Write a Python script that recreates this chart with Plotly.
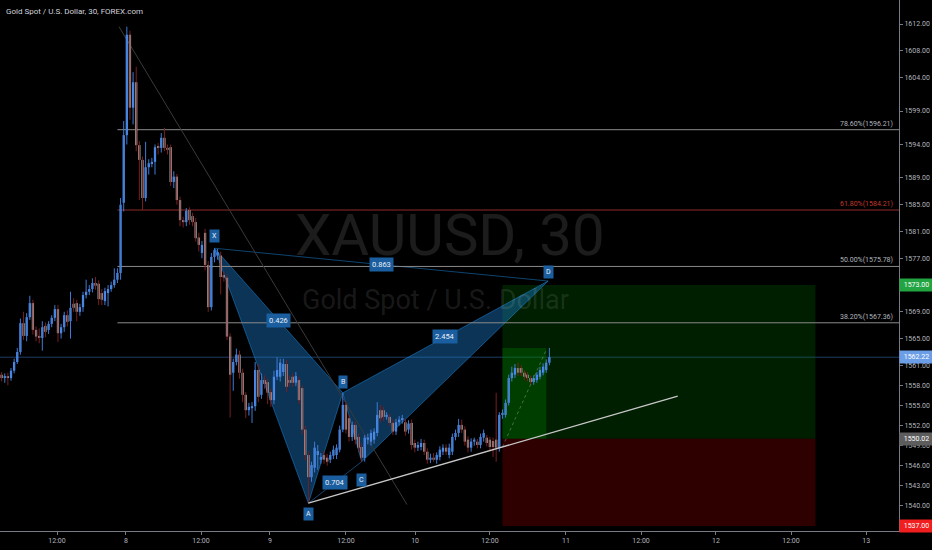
import plotly.graph_objects as go

# ---------------- data ----------------
opens = [1560.0,1559.6,1559.1,1559.4,1559.1,1560.2,1561.5,1563.0,1567.3,1565.4,1568.2,1570.3,1566.3,1565.4,1565.1,1566.9,1566.3,1567.2,1568.1,1569.4,
         1565.8,1566.7,1568.5,1567.6,1570.2,1570.3,1569.0,1569.7,1571.5,1572.0,1572.4,1573.3,1573.2,1571.8,1570.6,1571.8,1572.4,1573.0,1573.8,1574.8,
         1585.3,1595.4,1610.4,1599.5,1603.3,1593.9,1591.7,1586.0,1590.6,1591.2,1591.4,1593.6,1593.5,1595.0,1593.5,1593.6,1588.4,1589.2,1585.7,1582.7,
         1582.4,1584.2,1583.3,1582.4,1580.1,1577.8,1580.8,1576.0,1569.7,1577.2,1577.4,1577.4,1574.5,1574.1,1565.3,1559.9,1561.5,1562.6,1559.9,1556.6,
         1554.3,1554.6,1554.9,1560.3,1556.6,1558.8,1558.5,1557.0,1555.8,1559.3,1559.3,1560.0,1561.2,1558.8,1559.3,1558.4,1558.8,1557.6,1551.4,1547.6,
         1544.3,1545.7,1547.6,1546.9,1547.6,1547.2,1546.9,1547.5,1547.6,1548.4,1551.4,1555.1,1553.1,1550.3,1552.1,1550.3,1548.8,1547.2,1549.9,1549.6,
         1549.9,1550.9,1554.3,1554.3,1553.3,1553.3,1552.4,1551.1,1552.5,1552.9,1552.5,1551.4,1552.4,1549.4,1548.7,1548.8,1549.4,1548.1,1546.9,1547.2,
         1546.9,1547.3,1548.1,1548.7,1547.6,1548.1,1550.3,1550.9,1552.1,1551.4,1549.9,1548.7,1549.6,1549.6,1549.1,1550.2,1550.2,1549.9,1549.7,1549.9,
         1548.7,1553.6,1553.6,1555.4,1559.1,1559.6,1560.6,1560.6,1559.9,1559.6,1559.1,1558.5,1558.8,1559.3,1559.9,1560.3,1561.4]
highs = [1560.4,1560.0,1559.8,1559.9,1560.6,1562.0,1563.6,1568.0,1569.0,1568.8,1571.4,1570.8,1566.8,1566.5,1567.6,1567.4,1567.6,1568.5,1570.0,1570.0,
         1567.2,1569.0,1569.2,1572.0,1571.0,1570.8,1570.2,1572.0,1573.8,1573.0,1574.0,1574.2,1573.7,1572.4,1572.6,1573.0,1573.5,1575.5,1575.5,1586.0,
         1597.5,1611.6,1611.0,1604.8,1605.6,1594.5,1592.2,1594.4,1591.8,1592.0,1594.0,1594.2,1595.7,1596.5,1594.0,1594.0,1590.0,1589.6,1586.2,1583.2,
         1584.5,1584.6,1583.8,1583.0,1580.8,1579.6,1581.4,1576.6,1577.8,1578.5,1578.4,1578.0,1575.0,1574.5,1565.8,1562.0,1563.5,1563.2,1560.5,1557.0,
         1555.4,1555.5,1561.5,1561.2,1559.8,1559.5,1559.0,1557.5,1560.2,1562.2,1562.0,1562.0,1561.8,1559.5,1559.8,1560.0,1559.3,1558.0,1552.0,1548.2,
         1546.6,1549.6,1549.1,1547.9,1548.2,1547.8,1548.1,1549.0,1549.2,1552.0,1556.9,1555.6,1553.6,1552.6,1552.6,1550.8,1549.4,1550.6,1550.8,1551.4,
         1551.6,1555.5,1555.1,1554.8,1554.0,1553.8,1552.9,1553.0,1553.4,1553.6,1553.0,1552.8,1552.9,1549.9,1549.6,1550.0,1549.9,1548.6,1547.8,1547.9,
         1548.0,1548.9,1549.2,1549.2,1549.3,1550.8,1551.4,1553.0,1552.9,1551.9,1550.4,1550.1,1550.2,1550.0,1550.8,1551.4,1550.6,1550.3,1550.2,1556.9,
         1554.0,1554.4,1555.9,1559.6,1560.8,1561.2,1561.4,1561.0,1560.3,1560.0,1559.5,1559.5,1560.0,1560.8,1561.3,1561.9,1563.6]
lows = [1559.0,1558.6,1558.4,1558.0,1558.7,1559.8,1561.2,1562.6,1564.8,1564.6,1567.8,1565.6,1564.6,1564.3,1563.2,1565.2,1565.7,1566.7,1567.6,1564.5,
        1565.0,1566.0,1566.8,1565.0,1569.0,1567.6,1568.4,1569.0,1571.0,1571.5,1571.9,1572.3,1570.0,1570.0,1570.0,1569.8,1572.0,1572.6,1573.3,1573.8,
        1584.0,1594.0,1597.7,1597.0,1593.0,1585.7,1584.2,1585.5,1589.5,1590.6,1589.5,1592.5,1592.8,1593.0,1592.5,1587.8,1587.5,1585.0,1581.8,1581.6,
        1581.8,1582.0,1581.8,1579.5,1578.0,1577.0,1575.2,1569.0,1569.2,1576.4,1576.8,1571.6,1573.5,1564.8,1553.2,1557.2,1561.0,1559.0,1555.5,1553.1,
        1553.5,1552.4,1554.2,1555.5,1556.0,1557.5,1555.2,1554.8,1555.2,1558.8,1558.6,1559.4,1557.0,1557.8,1557.8,1557.9,1555.2,1550.7,1546.8,1540.4,
        1543.6,1545.0,1545.4,1546.3,1546.3,1546.0,1546.4,1547.0,1547.0,1548.0,1551.0,1550.8,1549.6,1549.7,1549.2,1548.0,1546.6,1546.6,1549.2,1549.0,
        1549.3,1550.4,1552.5,1552.7,1552.9,1551.9,1550.6,1550.6,1552.0,1552.3,1550.5,1550.8,1548.4,1548.0,1548.2,1548.3,1547.6,1546.3,1546.4,1546.6,
        1546.3,1546.8,1547.6,1547.6,1547.1,1547.6,1549.8,1550.3,1550.9,1549.0,1548.0,1548.1,1549.0,1548.6,1548.6,1549.6,1548.9,1548.2,1547.3,1546.6,
        1548.1,1553.0,1553.2,1555.0,1558.6,1559.1,1559.4,1559.4,1558.8,1558.6,1558.1,1558.1,1558.4,1558.9,1559.5,1559.9,1561.0]
closes = [1559.6,1559.1,1559.4,1559.1,1560.2,1561.5,1563.0,1567.3,1565.4,1568.2,1570.3,1566.3,1565.3,1565.1,1566.7,1566.0,1567.2,1568.1,1569.4,1565.8,
          1566.7,1568.5,1567.5,1569.6,1569.6,1569.0,1569.7,1571.5,1572.0,1572.4,1573.3,1572.9,1570.9,1570.8,1572.1,1572.4,1573.0,1573.8,1574.8,1585.0,
          1595.4,1610.4,1599.5,1603.3,1593.9,1591.7,1586.0,1590.6,1591.2,1591.4,1593.6,1593.5,1595.0,1593.5,1593.2,1588.4,1589.2,1585.7,1582.7,1582.4,
          1584.1,1582.7,1582.4,1580.0,1579.0,1579.0,1576.0,1569.7,1577.2,1578.2,1577.9,1574.2,1574.1,1565.3,1559.6,1561.5,1562.6,1559.9,1556.6,1554.3,
          1554.8,1554.9,1560.3,1556.3,1558.8,1558.2,1556.9,1555.8,1559.3,1560.3,1561.4,1561.2,1557.8,1558.4,1558.4,1559.4,1555.8,1551.4,1547.6,1544.3,
          1546.1,1548.7,1548.2,1547.3,1546.9,1546.6,1547.6,1548.4,1548.7,1551.4,1555.1,1551.4,1550.3,1552.1,1549.9,1548.7,1547.2,1550.2,1550.2,1550.9,
          1551.1,1553.6,1553.1,1553.3,1553.6,1552.4,1551.1,1552.5,1552.9,1553.1,1551.1,1552.3,1549.1,1548.7,1549.1,1549.4,1548.1,1546.9,1547.2,1546.9,
          1547.6,1548.4,1548.7,1548.1,1548.7,1550.3,1550.9,1552.1,1551.4,1549.6,1548.7,1549.6,1549.9,1549.1,1550.3,1550.9,1549.4,1548.8,1548.8,1548.7,
          1553.6,1553.9,1555.4,1559.1,1559.9,1560.6,1559.9,1559.9,1559.3,1559.1,1558.5,1559.1,1559.6,1560.3,1560.8,1561.4,1562.22]

x_tick_pos = [18.7, 40.7, 64.7, 86.7, 111.0, 133.1, 157.0, 181.3, 205.3, 229.2, 253.2, 277.2]
x_tick_text = ["12:00", "8", "12:00", "9", "12:00", "10", "12:00", "11", "12:00", "12", "12:00", "13"]
y_tick_vals = [1612, 1608, 1604, 1599, 1594, 1589, 1585, 1581, 1577, 1569, 1565, 1561,
               1558, 1555, 1552, 1549, 1546, 1543, 1540]

# harmonic pattern points (bar index, price)
pat_names = ["X", "A", "B", "C", "D"]
pat_bar = [69, 99, 110, 116, 175.6]
pat_price = [1578.5, 1540.4, 1556.9, 1546.6, 1573.6]
ratio_labels = {"XB": "0.426", "AC": "0.704", "BD": "2.454", "XD": "0.863"}

fib_levels = [1596.21, 1584.21, 1575.78, 1567.36]
fib_names = ["78.60%", "61.80%", "50.00%", "38.20%"]
fib_start_bar = 38

last_price = 1562.22
entry_price = 1550.02
target_price = 1573.00
stop_price = 1537.00
pos_start, pos_end, pos_now = 161, 261, 175

support_bars = [99, 217]
support_prices = [1540.4, 1556.4]
diag_bars = [38.5, 130.5]
diag_prices = [1611.6, 1540.2]

# ---------------- styles ----------------
UP = "#5494f0"
DOWN = "#b0b0b0"
UP_WICK = "#3f7bd6"
DOWN_WICK = "#7a1f1f"
PAT_FILL = "rgba(28,130,215,0.4)"
PAT_LINE = "rgba(33,150,243,0.45)"
LBL_BG = "#1b5e9f"
AXIS_C = "#787b86"
TXT_C = "#b2b5be"
FONT = "Roboto"

n = len(closes)
idx = list(range(n))
fig = go.Figure()

# wicks
for up, col in ((True, UP_WICK), (False, DOWN_WICK)):
    wx, wy = [], []
    for i in idx:
        if (closes[i] >= opens[i]) == up:
            wx += [i, i, None]
            wy += [lows[i], highs[i], None]
    fig.add_trace(go.Scatter(x=wx, y=wy, mode="lines", line=dict(color=col, width=1),
                             hoverinfo="skip", showlegend=False))

# bodies
for up, col in ((True, UP), (False, DOWN)):
    bx, by, bb = [], [], []
    for i in idx:
        if (closes[i] >= opens[i]) == up:
            lo = min(opens[i], closes[i])
            hi = max(opens[i], closes[i])
            bx.append(i)
            bb.append(lo)
            by.append(max(hi - lo, 0.15))
    fig.add_trace(go.Bar(x=bx, y=by, base=bb, width=0.72, marker=dict(color=col, line=dict(width=0)),
                         hoverinfo="skip", showlegend=False))

shapes = []
# position tool
shapes.append(dict(type="rect", xref="x", yref="y", x0=pos_start, x1=pos_end, y0=entry_price, y1=target_price,
                   fillcolor="rgba(0,120,0,0.25)", line=dict(width=0), layer="below"))
shapes.append(dict(type="rect", xref="x", yref="y", x0=pos_start, x1=pos_now, y0=entry_price, y1=max(highs[-3:]),
                   fillcolor="rgba(0,140,0,0.3)", line=dict(width=0), layer="below"))
shapes.append(dict(type="rect", xref="x", yref="y", x0=pos_start, x1=pos_end, y0=stop_price, y1=entry_price,
                   fillcolor="rgba(110,0,0,0.42)", line=dict(width=0), layer="below"))

# harmonic fills
P = dict(zip(pat_names, zip(pat_bar, pat_price)))
def tri(a, b, c):
    pts = [P[a], P[b], P[c]]
    return "M {} {} L {} {} L {} {} Z".format(pts[0][0], pts[0][1], pts[1][0], pts[1][1], pts[2][0], pts[2][1])
for t in (("X", "A", "B"), ("B", "C", "D")):
    shapes.append(dict(type="path", xref="x", yref="y", path=tri(*t), fillcolor=PAT_FILL,
                       line=dict(color=PAT_LINE, width=1), layer="below"))
for a, b in (("X", "D"), ("A", "C")):
    shapes.append(dict(type="line", xref="x", yref="y", x0=P[a][0], y0=P[a][1], x1=P[b][0], y1=P[b][1],
                       line=dict(color=PAT_LINE, width=1), layer="below"))

# fib lines
for lv, nm in zip(fib_levels, fib_names):
    col = "#8f2a2a" if nm == "61.80%" else "#8a8a8a"
    shapes.append(dict(type="line", xref="x", yref="y", x0=fib_start_bar, x1=287.7, y0=lv, y1=lv,
                       line=dict(color=col, width=1), layer="below"))

# current price line
shapes.append(dict(type="line", xref="paper", yref="y", x0=0, x1=1, y0=last_price, y1=last_price,
                   line=dict(color="#1d3d66", width=1), layer="below"))
# diagonal & support lines
shapes.append(dict(type="line", xref="x", yref="y", x0=diag_bars[0], y0=diag_prices[0], x1=diag_bars[1], y1=diag_prices[1],
                   line=dict(color="#3a3a3a", width=1), layer="below"))
shapes.append(dict(type="line", xref="x", yref="y", x0=support_bars[0], y0=support_prices[0], x1=support_bars[1], y1=support_prices[1],
                   line=dict(color="#c8c8c8", width=1.3), layer="above"))
# position connector (dotted)
shapes.append(dict(type="line", xref="x", yref="y", x0=pos_start, y0=lows[160] + 0.7, x1=pos_now, y1=highs[-1] - 0.3,
                   line=dict(color="rgba(200,200,200,0.35)", width=1, dash="dot"), layer="above"))

ann = []
# watermark
ann.append(dict(text="XAUUSD, 30", xref="paper", yref="paper", x=0.5006, y=0.557, showarrow=False,
                font=dict(family=FONT, size=58, color="rgba(255,255,255,0.11)"), xanchor="center", yanchor="middle"))
ann.append(dict(text="Gold Spot / U.S. Dollar", xref="paper", yref="paper", x=0.484, y=0.435, showarrow=False,
                font=dict(family=FONT, size=27, color="rgba(255,255,255,0.11)"), xanchor="center", yanchor="middle"))
# title
ann.append(dict(text="Gold Spot / U.S. Dollar, 30, FOREX.com", xref="paper", yref="paper", x=0.005, y=0.979,
                showarrow=False, xanchor="left", yanchor="middle", font=dict(family=FONT, size=8, color="#d1d4dc")))

# fib labels
for lv, nm in zip(fib_levels, fib_names):
    col = "#c0392b" if nm == "61.80%" else TXT_C
    ann.append(dict(text="{}({:.2f})".format(nm, lv), xref="paper", yref="y", x=0.9955, y=lv, showarrow=False,
                    xanchor="right", yanchor="bottom", yshift=0, font=dict(family=FONT, size=7, color=col)))

# pattern point labels
shifts = {"X": 12, "A": -11, "B": 11, "C": -18, "D": 9}
for nm in pat_names:
    ann.append(dict(text=nm, x=P[nm][0], y=P[nm][1], xref="x", yref="y", showarrow=False, yshift=shifts[nm],
                    bgcolor=LBL_BG, borderpad=2, font=dict(family=FONT, size=7, color="#e8eef5")))
# ratio labels
for key, txt in ratio_labels.items():
    a, b = P[key[0]], P[key[1]]
    ann.append(dict(text=txt, x=(a[0] + b[0]) / 2, y=(a[1] + b[1]) / 2, xref="x", yref="y", showarrow=False,
                    bgcolor=LBL_BG, borderpad=2, font=dict(family=FONT, size=7.5, color="#e8eef5")))

# right axis price boxes
for val, bg in ((target_price, "#22a442"), (last_price, "#6b9ee6"), (entry_price, "#5d5d5d"), (stop_price, "#f01e1e")):
    ann.append(dict(text="{:.2f}".format(val), xref="paper", yref="y", x=1.0, y=val, xanchor="left", yanchor="middle",
                    showarrow=False, bgcolor=bg, width=31, height=10, borderpad=1,
                    font=dict(family=FONT, size=7, color="#ffffff")))

fig.update_layout(
    width=932, height=550,
    margin=dict(l=0, r=33, t=0, b=19),
    paper_bgcolor="#000000", plot_bgcolor="#000000",
    barmode="overlay", showlegend=False,
    shapes=shapes, annotations=ann,
    xaxis=dict(range=[0.48, 287.7], showgrid=False, zeroline=False, showline=True, linecolor=AXIS_C, linewidth=1,
               ticks="outside", ticklen=3, tickcolor=AXIS_C, tickvals=x_tick_pos, ticktext=x_tick_text,
               tickfont=dict(family=FONT, size=7, color=TXT_C), fixedrange=True),
    yaxis=dict(range=[1536.25, 1615.59], side="right", showgrid=False, zeroline=False, showline=True,
               linecolor=AXIS_C, linewidth=1, ticks="outside", ticklen=3, tickcolor=AXIS_C,
               tickvals=y_tick_vals, ticktext=["{:.2f}".format(v) for v in y_tick_vals],
               tickfont=dict(family=FONT, size=7, color=TXT_C), fixedrange=True),
)

fig.write_html("out.html", config={"displayModeBar": False},
               post_script="document.body.style.margin = '0px';")
